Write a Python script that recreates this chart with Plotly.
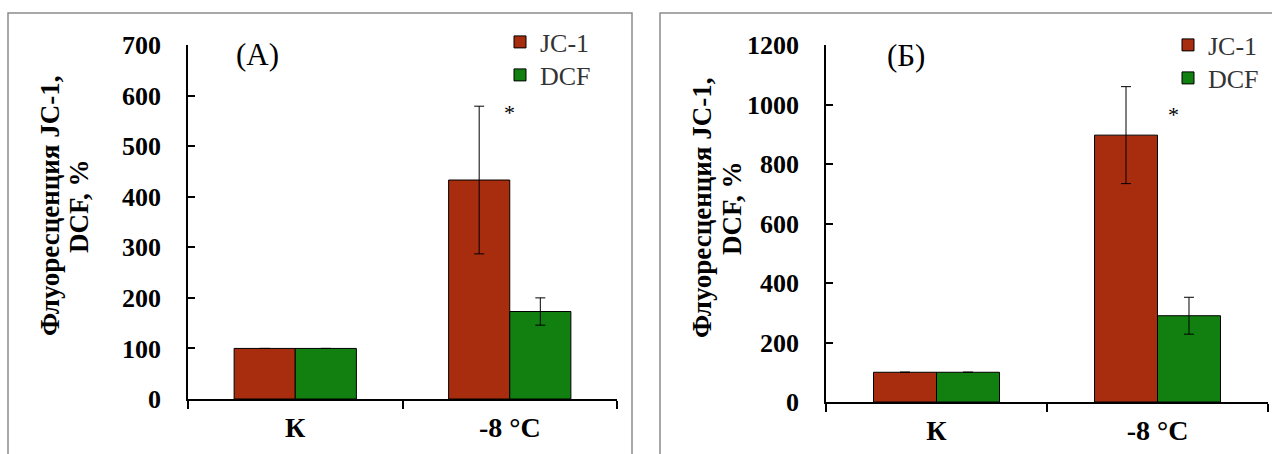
import plotly.graph_objects as go

W, H = 1272, 454

categories = ["К", "-8 °C"]
series_names = ["JC-1", "DCF"]

# Panel A
a_jc1 = [100, 433]
a_jc1_err = [None, 146]
a_dcf = [100, 173]
a_dcf_err = [None, 27]

# Panel B
b_jc1 = [100, 897]
b_jc1_err = [None, 163]
b_dcf = [100, 290]
b_dcf_err = [None, 62]

a_yticks = [0, 100, 200, 300, 400, 500, 600, 700]
b_yticks = [0, 200, 400, 600, 800, 1000, 1200]

RED = "#A82C0E"
GREEN = "#118011"
SERIF = "Liberation Serif, Times New Roman, serif"

def px_x(p):
    return p / W

def px_y(p):
    return 1 - p / H

fig = go.Figure()

def add_bars(vals, errs, name, color, xa, ya, legend):
    fig.add_trace(go.Bar(
        x=categories, y=vals, name=name,
        marker=dict(color=color, line=dict(color="black", width=1)),
        error_y=dict(type="data", array=errs, visible=True, color="black",
                     thickness=1, width=5),
        xaxis=xa, yaxis=ya, legend=legend, showlegend=True,
    ))

add_bars(a_jc1, a_jc1_err, series_names[0], RED, "x", "y", "legend")
add_bars(a_dcf, a_dcf_err, series_names[1], GREEN, "x", "y", "legend2")
add_bars(b_jc1, b_jc1_err, series_names[0], RED, "x2", "y2", "legend3")
add_bars(b_dcf, b_dcf_err, series_names[1], GREEN, "x2", "y2", "legend4")

xcommon = dict(
    showline=True, linecolor="black", linewidth=1.5,
    ticks="outside", ticklen=8, tickcolor="black", tickwidth=1.5,
    tickson="boundaries", showgrid=False, zeroline=False, automargin=False,
    tickfont=dict(family=SERIF, size=28, color="black", weight="bold"),
    ticklabelstandoff=3,
)
ycommon = dict(
    showline=True, linecolor="black", linewidth=1.5,
    ticks="inside", ticklen=7, tickcolor="black", tickwidth=1.5,
    showgrid=False, zeroline=False, automargin=False,
    tickfont=dict(family=SERIF, size=26, color="black", weight="bold"),
    ticklabelstandoff=20,
)

def leg(xp, yp):
    return dict(x=px_x(xp), y=px_y(yp), xanchor="left", yanchor="middle",
                font=dict(family=SERIF, size=26, color="#333333"),
                bgcolor="rgba(0,0,0,0)", borderwidth=0)

fig.update_layout(
    template="none",
    width=W, height=H, autosize=False,
    margin=dict(l=0, r=0, t=0, b=0, pad=0),
    paper_bgcolor="white", plot_bgcolor="white",
    barmode="group", bargap=0.43, bargroupgap=0,
    xaxis=dict(domain=[px_x(188), px_x(617)], anchor="y", **xcommon),
    yaxis=dict(domain=[px_y(399), px_y(45)], anchor="x", range=[0, 700],
               tickvals=a_yticks, **ycommon),
    xaxis2=dict(domain=[px_x(826), px_x(1268)], anchor="y2", **xcommon),
    yaxis2=dict(domain=[px_y(402), px_y(45)], anchor="x2", range=[0, 1200],
                tickvals=b_yticks, **ycommon),
    legend=leg(500, 42),
    legend2=leg(500, 75),
    legend3=leg(1168, 45),
    legend4=leg(1168, 78),
    showlegend=True,
)

# panel frames
fig.add_shape(type="rect", xref="paper", yref="paper",
              x0=px_x(8), x1=px_x(632), y0=-0.2, y1=px_y(13),
              line=dict(color="#8c8c8c", width=1.5), layer="below")
fig.add_shape(type="rect", xref="paper", yref="paper",
              x0=px_x(660), x1=1.2, y0=-0.2, y1=px_y(13),
              line=dict(color="#8c8c8c", width=1.5), layer="below")

def ann(text, x, y, size, bold=False, angle=0):
    fig.add_annotation(text=text, x=x, y=y, xref="paper", yref="paper",
                       showarrow=False, textangle=angle,
                       xanchor="center", yanchor="middle",
                       font=dict(family=SERIF, size=size, color="black",
                                 weight="bold" if bold else "normal"))

# axis titles
ann("Флуоресценция JC-1,", px_x(50), px_y(206), 27, True, -90)
ann("DCF, %", px_x(79), px_y(206), 27, True, -90)
ann("Флуоресценция JC-1,", px_x(702), px_y(208), 27, True, -90)
ann("DCF, %", px_x(732), px_y(208), 27, True, -90)

# panel labels
ann("(A)", px_x(257), px_y(55), 31)
ann("(Б)", px_x(906), px_y(56), 31)

# significance stars
fig.add_annotation(text="*", x=categories[1], y=566, xref="x", yref="y",
                   showarrow=False, font=dict(family=SERIF, size=22, color="black"))
fig.add_annotation(text="*", x=categories[1], y=965, xref="x2", yref="y2",
                   xshift=16, showarrow=False,
                   font=dict(family=SERIF, size=22, color="black"))

fig.write_html("out.html")
